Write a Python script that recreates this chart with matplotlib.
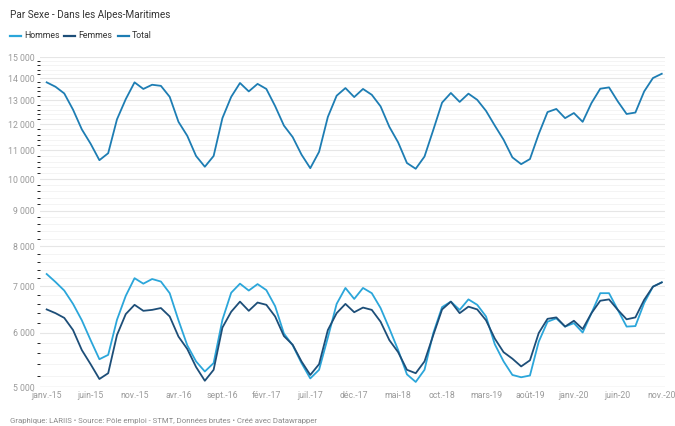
import numpy as np
import matplotlib
matplotlib.use('Agg')
import matplotlib.pyplot as plt
from matplotlib.ticker import FixedLocator, FuncFormatter, NullFormatter

plt.rcParams['font.family'] = ['Roboto', 'DejaVu Sans']

# data : demandeurs d'emploi, Alpes-Maritimes, janv.-15 -> nov.-20 (mensuel)
months = ['janv.', 'févr.', 'mars', 'avr.', 'mai', 'juin', 'juil.', 'août',
          'sept.', 'oct.', 'nov.', 'déc.']
dates = [months[i % 12] + '-' + str(15 + i // 12) for i in range(71)]

total = [13800, 13600, 13300, 12600, 11800, 11250, 10650, 10900, 12200, 13050,
         13800, 13500, 13690, 13640, 13150, 12100, 11550, 10800, 10420, 10800,
         12250, 13150, 13770, 13390, 13730, 13500, 12750, 11950, 11500, 10850,
         10370, 10950, 12300, 13200, 13540, 13140, 13500, 13240, 12740, 11900,
         11300, 10550, 10350, 10780, 11780, 12900, 13320, 12930, 13290, 13020,
         12550, 11950, 11400, 10750, 10510, 10690, 11620, 12500, 12630, 12250,
         12460, 12100, 12880, 13510, 13570, 12950, 12420, 12480, 13390, 14000,
         14200]

hommes = [7290, 7100, 6900, 6600, 6250, 5850, 5490, 5570, 6260, 6780,
          7190, 7060, 7170, 7110, 6840, 6250, 5750, 5450, 5270, 5420,
          6260, 6850, 7060, 6900, 7050, 6910, 6550, 5980, 5750, 5420,
          5150, 5300, 5900, 6600, 6960, 6710, 6960, 6840, 6510, 6080,
          5660, 5220, 5090, 5300, 5990, 6530, 6650, 6470, 6700, 6580,
          6330, 5770, 5450, 5210, 5170, 5200, 5820, 6220, 6290, 6120,
          6190, 6000, 6400, 6840, 6840, 6470, 6120, 6130, 6620, 6990,
          7090]

femmes = [6480, 6400, 6300, 6050, 5660, 5400, 5140, 5240, 5950, 6380,
          6580, 6450, 6470, 6510, 6330, 5920, 5680, 5350, 5110, 5300,
          6100, 6430, 6650, 6450, 6630, 6580, 6330, 5930, 5760, 5450,
          5210, 5400, 6050, 6400, 6600, 6420, 6520, 6470, 6220, 5850,
          5620, 5300, 5240, 5450, 5950, 6480, 6650, 6400, 6540, 6480,
          6250, 5880, 5620, 5500, 5360, 5470, 5990, 6280, 6310, 6120,
          6240, 6070, 6400, 6670, 6700, 6470, 6270, 6310, 6690, 6990,
          7090]

y_ticks = [5000, 6000, 7000, 8000, 9000, 10000, 11000, 12000, 13000, 14000, 15000]

c_hommes = '#2ba6da'
c_femmes = '#1d4e78'
c_total = '#1d7db3'
grey = '#9a9a9a'

fig = plt.figure(figsize=(6.75, 4.26), dpi=100)
ax = fig.add_axes([40 / 675, 38.7 / 426, 625 / 675, 330 / 426])

x = np.arange(len(dates))
lw = 1.3
ax.plot(x, total, color=c_total, lw=lw, solid_joinstyle='round', zorder=3)
ax.plot(x, hommes, color=c_hommes, lw=lw, solid_joinstyle='round', zorder=3)
ax.plot(x, femmes, color=c_femmes, lw=lw, solid_joinstyle='round', zorder=4)

ax.set_yscale('log')
ax.set_ylim(5000, 15000)
ax.set_xlim(-0.76, 70.37)

ax.yaxis.set_major_locator(FixedLocator(y_ticks))
ax.yaxis.set_major_formatter(FuncFormatter(lambda v, p: '{:,}'.format(int(v)).replace(',', ' ')))
minor = [v for v in range(5000, 15000, 200) if v % 1000 != 0]
ax.yaxis.set_minor_locator(FixedLocator(minor))
ax.yaxis.set_minor_formatter(NullFormatter())
ax.grid(which='major', axis='y', color='#e6e6e6', lw=0.8)
ax.grid(which='minor', axis='y', color='#f3f3f3', lw=0.6)
ax.axhline(5000, color='#d0d0d0', lw=0.9, zorder=2)

ax.set_xticks(x[::5])
ax.set_xticklabels(dates[::5])
ax.tick_params(axis='both', length=0, labelsize=6.3, labelcolor=grey)
ax.tick_params(axis='y', pad=4)
ax.tick_params(axis='x', pad=3)
for s in ax.spines.values():
    s.set_visible(False)

fig.text(10 / 675, 1 - 15 / 426, 'Par Sexe - Dans les Alpes-Maritimes',
         fontsize=7.2, color='#333333', va='center', ha='left')

# legend
lx = 10
for label, col in [('Hommes', c_hommes), ('Femmes', c_femmes), ('Total', c_total)]:
    fig.lines.append(plt.Line2D([lx / 675, (lx + 11) / 675], [1 - 36 / 426] * 2,
                                color=col, lw=1.6, transform=fig.transFigure))
    fig.text((lx + 14) / 675, 1 - 36 / 426, label, fontsize=6.3, color='#333333',
             va='center', ha='left')
    lx += 54

fig.text(10 / 675, 1 - 421 / 426,
         'Graphique: LARIIS \u2022 Source: Pôle emploi - STMT, Données brutes \u2022 Créé avec Datawrapper',
         fontsize=5.6, color='#8a8a8a', va='center', ha='left')

fig.savefig('out.png', dpi=100)
